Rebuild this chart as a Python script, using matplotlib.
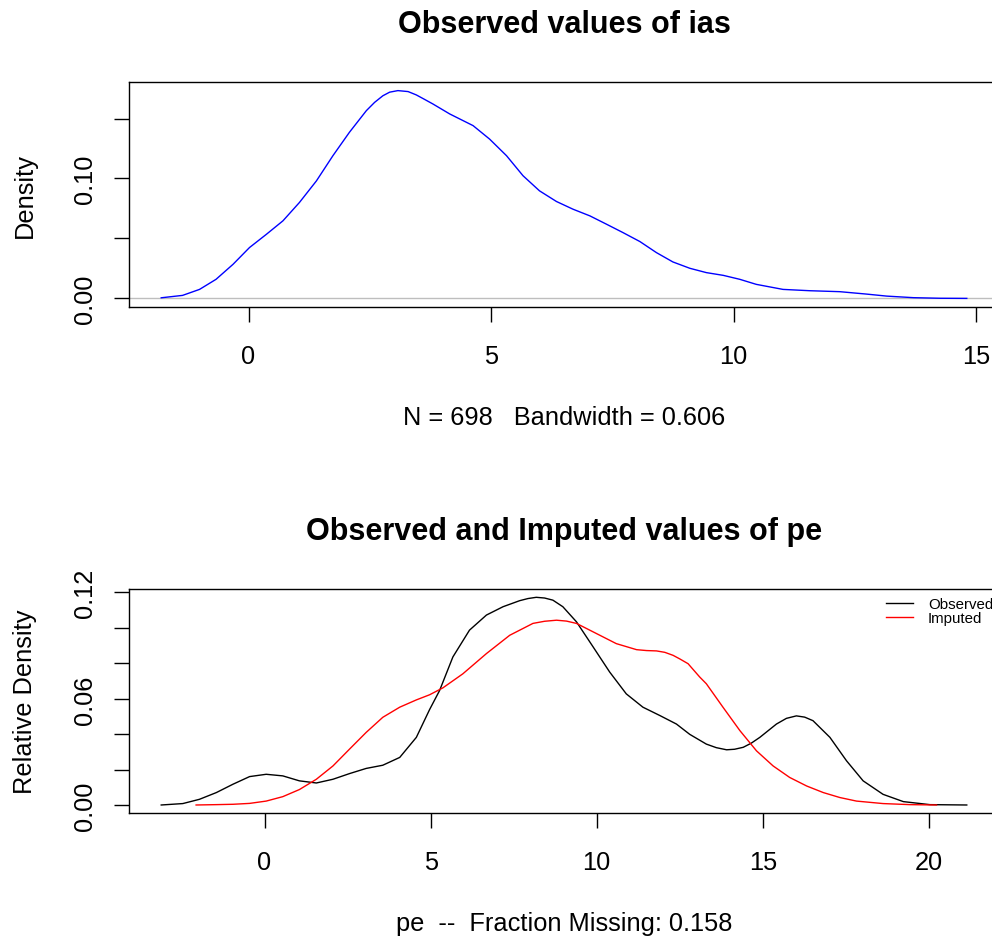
import matplotlib
matplotlib.use("Agg")
import matplotlib.pyplot as plt

plt.rcParams['font.family'] = ['Liberation Sans', 'DejaVu Sans']

# density of the observed ias values
ias_x = [-1.80, -1.36, -1.01, -0.67, -0.32, 0.02, 0.37, 0.71, 1.05, 1.40, 1.74,
         2.08, 2.43, 2.60, 2.77, 2.91, 3.08, 3.29, 3.46, 3.62, 3.80, 4.15, 4.63,
         4.97, 5.32, 5.66, 6.00, 6.35, 6.69, 7.04, 7.38, 7.72, 8.07, 8.41, 8.75,
         9.10, 9.44, 9.79, 10.13, 10.47, 11.02, 11.57, 12.19, 12.74, 13.16, 13.71,
         14.26, 14.81]
ias_y = [0.0005, 0.0025, 0.0075, 0.0159, 0.0284, 0.0424, 0.0535, 0.0647, 0.0800,
         0.0980, 0.1190, 0.1385, 0.1566, 0.1635, 0.1690, 0.1720, 0.1733, 0.1725,
         0.1697, 0.1662, 0.1622, 0.1538, 0.1441, 0.1329, 0.1190, 0.1023, 0.0897,
         0.0808, 0.0744, 0.0688, 0.0619, 0.0549, 0.0474, 0.0382, 0.0304, 0.0251,
         0.0215, 0.0192, 0.0159, 0.0117, 0.0075, 0.0064, 0.0056, 0.0036, 0.0019,
         0.0006, 0.0001, 0.0]

# pe: observed vs imputed densities
pe_obs_x = [-3.11, -2.46, -1.96, -1.45, -0.95, -0.45, 0.05, 0.55, 1.05, 1.56, 2.06,
            2.56, 3.06, 3.56, 4.07, 4.57, 4.97, 5.27, 5.67, 6.17, 6.68, 7.18, 7.68,
            7.93, 8.18, 8.43, 8.68, 8.98, 9.39, 9.89, 10.39, 10.89, 11.39, 11.90,
            12.40, 12.80, 13.30, 13.60, 13.91, 14.15, 14.41, 14.65, 14.91, 15.41,
            15.71, 16.01, 16.26, 16.51, 17.02, 17.52, 18.02, 18.62, 19.23, 20.03,
            21.14]
pe_obs_y = [0.0002, 0.0010, 0.0034, 0.0072, 0.0119, 0.0162, 0.0175, 0.0166, 0.0138,
            0.0126, 0.0147, 0.0179, 0.0208, 0.0226, 0.0270, 0.0383, 0.0540, 0.0647,
            0.0836, 0.0987, 0.1072, 0.1119, 0.1153, 0.1165, 0.1172, 0.1168, 0.1156,
            0.1119, 0.1034, 0.0893, 0.0751, 0.0628, 0.0553, 0.0506, 0.0458, 0.0400,
            0.0345, 0.0325, 0.0313, 0.0316, 0.0327, 0.0350, 0.0383, 0.0458, 0.0490,
            0.0504, 0.0497, 0.0477, 0.0383, 0.0251, 0.0138, 0.0062, 0.0021, 0.0004,
            0.0002]

pe_imp_x = [-2.06, -1.45, -0.95, -0.45, 0.05, 0.55, 1.05, 1.56, 2.06, 2.56, 3.06,
            3.56, 4.07, 4.57, 4.97, 5.37, 5.97, 6.68, 7.38, 8.08, 8.43, 8.79, 9.09,
            9.39, 9.99, 10.59, 11.20, 11.50, 11.80, 12.05, 12.30, 12.50, 12.75, 13.10,
            13.30, 13.80, 14.31, 14.81, 15.31, 15.81, 16.32, 16.82, 17.32, 17.82,
            18.62, 19.43, 20.23]
pe_imp_y = [0.0002, 0.0004, 0.0006, 0.0011, 0.0024, 0.0049, 0.0089, 0.0147, 0.0222,
            0.0317, 0.0411, 0.0496, 0.0553, 0.0594, 0.0623, 0.0662, 0.0741, 0.0855,
            0.0958, 0.1025, 0.1037, 0.1043, 0.1038, 0.1025, 0.0968, 0.0911, 0.0877,
            0.0872, 0.0870, 0.0862, 0.0845, 0.0825, 0.0798, 0.0723, 0.0685, 0.0553,
            0.0421, 0.0307, 0.0222, 0.0157, 0.0109, 0.0072, 0.0044, 0.0024, 0.0010,
            0.0004, 0.0002]

top_xticks = [0, 5, 10, 15]
top_yticks = [0.0, 0.05, 0.10, 0.15]
top_ylabels = ["0.00", "", "0.10", ""]
bot_xticks = [0, 5, 10, 15, 20]
bot_yticks = [0.0, 0.02, 0.04, 0.06, 0.08, 0.10, 0.12]
bot_ylabels = ["0.00", "", "", "0.06", "", "", "0.12"]

W, H = 992, 937
fig = plt.figure(figsize=(W / 100, H / 100), dpi=100)


def fx(px):
    return px / W


def fy(py):
    return 1 - py / H


LAB = 18.3
TITLE = 22


def style_axes(ax, xticks, yticks, ylabels):
    ax.margins(0.04)
    for s in ax.spines.values():
        s.set_linewidth(1.0)
    ax.set_xticks(xticks)
    ax.set_xticklabels([str(t) for t in xticks])
    ax.set_yticks(yticks)
    ax.set_yticklabels(ylabels)
    ax.tick_params(axis='x', direction='out', length=11, width=1.0,
                   labelsize=LAB, pad=15.5)
    ax.tick_params(axis='y', direction='out', length=11, width=1.0,
                   labelsize=LAB, pad=12, labelrotation=90)
    for lab in ax.get_yticklabels():
        lab.set_va('center')


# top panel
ax1 = fig.add_axes([fx(129), fy(307.7), fx(999 - 129), (307.7 - 83.3) / H])
ax1.axhline(0, color='#BEBEBE', lw=1.0, zorder=1)
ax1.plot(ias_x, ias_y, color='#0000FF', lw=1.0, zorder=2)
style_axes(ax1, top_xticks, top_yticks, top_ylabels)

fig.text(fx(564), fy(33.3), "Observed values of ias", fontsize=TITLE,
         fontweight='bold', ha='center', va='baseline')
fig.text(fx(564), fy(425), "N = 698   Bandwidth = 0.606", fontsize=LAB,
         ha='center', va='baseline')
fig.text(fx(32), fy(195.5), "Density", fontsize=LAB, rotation=90,
         rotation_mode='anchor', ha='center', va='baseline')

# bottom panel
ax2 = fig.add_axes([fx(129), fy(814.3), fx(999 - 129), (814.3 - 590) / H])
ax2.plot(pe_obs_x, pe_obs_y, color='black', lw=1.0, label='Observed')
ax2.plot(pe_imp_x, pe_imp_y, color='#FF0000', lw=1.0, label='Imputed')
style_axes(ax2, bot_xticks, bot_yticks, bot_ylabels)
ax2.legend(loc='upper left', bbox_to_anchor=((886 - 129) / 870, (814.3 - 598) / 224.3),
           frameon=False, fontsize=10.8, borderpad=0, borderaxespad=0,
           handlelength=1.8, handletextpad=1.0, labelspacing=0.0)

fig.text(fx(564), fy(540), "Observed and Imputed values of pe", fontsize=TITLE,
         fontweight='bold', ha='center', va='baseline')
fig.text(fx(564), fy(931.5), "pe  --  Fraction Missing: 0.158", fontsize=LAB,
         ha='center', va='baseline')
fig.text(fx(32), fy(702), "Relative Density", fontsize=LAB, rotation=90,
         rotation_mode='anchor', ha='center', va='baseline')

fig.savefig("out.png", dpi=100)
